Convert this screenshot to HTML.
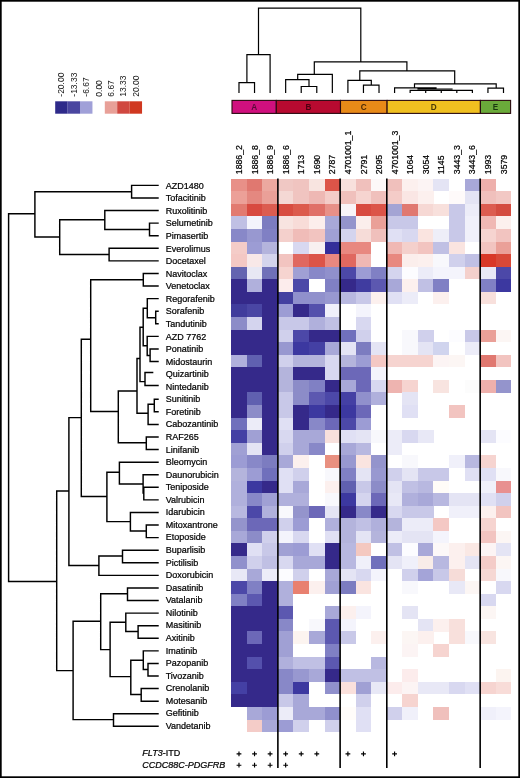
<!DOCTYPE html><html><head><meta charset="utf-8"><style>html,body{margin:0;padding:0;background:#fff;}svg{display:block;will-change:transform;}text{font-family:"Liberation Sans",sans-serif;}.hv text{stroke:#000;stroke-width:0.22px;}</style></head><body>
<svg width="520" height="778" viewBox="0 0 520 778">
<rect x="0" y="0" width="520" height="778" fill="#fff"/>
<g shape-rendering="crispEdges">
<rect x="231.20" y="178.60" width="15.61" height="12.63" fill="#e89088"/>
<rect x="246.76" y="178.60" width="15.61" height="12.63" fill="#e07870"/>
<rect x="262.32" y="178.60" width="15.61" height="12.63" fill="#eca8a0"/>
<rect x="277.88" y="178.60" width="15.61" height="12.63" fill="#f0c8c4"/>
<rect x="293.44" y="178.60" width="15.61" height="12.63" fill="#f0c4c0"/>
<rect x="309.00" y="178.60" width="15.61" height="12.63" fill="#f8e4e0"/>
<rect x="324.56" y="178.60" width="15.61" height="12.63" fill="#dc5448"/>
<rect x="340.12" y="178.60" width="15.61" height="12.63" fill="#f8e0dc"/>
<rect x="355.68" y="178.60" width="15.61" height="12.63" fill="#f0c0bc"/>
<rect x="371.24" y="178.60" width="15.61" height="12.63" fill="#fdf8f8"/>
<rect x="386.80" y="178.60" width="15.61" height="12.63" fill="#f0c0bc"/>
<rect x="402.36" y="178.60" width="15.61" height="12.63" fill="#fcf0ee"/>
<rect x="417.92" y="178.60" width="15.61" height="12.63" fill="#fcf4f4"/>
<rect x="433.48" y="178.60" width="15.61" height="12.63" fill="#e4e4f4"/>
<rect x="464.60" y="178.60" width="15.61" height="12.63" fill="#a8a8d8"/>
<rect x="480.16" y="178.60" width="15.61" height="12.63" fill="#eeb0ac"/>
<rect x="231.20" y="191.18" width="15.61" height="12.63" fill="#eca098"/>
<rect x="246.76" y="191.18" width="15.61" height="12.63" fill="#e48880"/>
<rect x="262.32" y="191.18" width="15.61" height="12.63" fill="#eaa098"/>
<rect x="277.88" y="191.18" width="15.61" height="12.63" fill="#f4d8d4"/>
<rect x="293.44" y="191.18" width="15.61" height="12.63" fill="#f0c4c0"/>
<rect x="309.00" y="191.18" width="15.61" height="12.63" fill="#eeb8b4"/>
<rect x="324.56" y="191.18" width="15.61" height="12.63" fill="#f4ccc8"/>
<rect x="340.12" y="191.18" width="15.61" height="12.63" fill="#f0c0bc"/>
<rect x="355.68" y="191.18" width="15.61" height="12.63" fill="#f6d4d0"/>
<rect x="371.24" y="191.18" width="15.61" height="12.63" fill="#f0c0bc"/>
<rect x="386.80" y="191.18" width="15.61" height="12.63" fill="#f4ccc8"/>
<rect x="402.36" y="191.18" width="15.61" height="12.63" fill="#fae6e4"/>
<rect x="417.92" y="191.18" width="15.61" height="12.63" fill="#fcf0ee"/>
<rect x="449.04" y="191.18" width="15.61" height="12.63" fill="#fefafa"/>
<rect x="464.60" y="191.18" width="15.61" height="12.63" fill="#e4e4f4"/>
<rect x="480.16" y="191.18" width="15.61" height="12.63" fill="#f0c0bc"/>
<rect x="495.72" y="191.18" width="15.61" height="12.63" fill="#f2c8c4"/>
<rect x="231.20" y="203.76" width="15.61" height="12.63" fill="#e27a70"/>
<rect x="246.76" y="203.76" width="15.61" height="12.63" fill="#d84a40"/>
<rect x="262.32" y="203.76" width="15.61" height="12.63" fill="#dc5c50"/>
<rect x="277.88" y="203.76" width="15.61" height="12.63" fill="#d84c40"/>
<rect x="293.44" y="203.76" width="15.61" height="12.63" fill="#dc5a4c"/>
<rect x="309.00" y="203.76" width="15.61" height="12.63" fill="#e07068"/>
<rect x="324.56" y="203.76" width="15.61" height="12.63" fill="#e89088"/>
<rect x="340.12" y="203.76" width="15.61" height="12.63" fill="#f8f4f8"/>
<rect x="355.68" y="203.76" width="15.61" height="12.63" fill="#d84a40"/>
<rect x="371.24" y="203.76" width="15.61" height="12.63" fill="#dc5448"/>
<rect x="386.80" y="203.76" width="15.61" height="12.63" fill="#a4a4d4"/>
<rect x="402.36" y="203.76" width="15.61" height="12.63" fill="#e07870"/>
<rect x="417.92" y="203.76" width="15.61" height="12.63" fill="#f6d8d4"/>
<rect x="433.48" y="203.76" width="15.61" height="12.63" fill="#f8e0dc"/>
<rect x="449.04" y="203.76" width="15.61" height="12.63" fill="#c8c8e8"/>
<rect x="464.60" y="203.76" width="15.61" height="12.63" fill="#ececf8"/>
<rect x="480.16" y="203.76" width="15.61" height="12.63" fill="#dc5c50"/>
<rect x="495.72" y="203.76" width="15.61" height="12.63" fill="#d44c40"/>
<rect x="231.20" y="216.34" width="15.61" height="12.63" fill="#c0c0e4"/>
<rect x="246.76" y="216.34" width="15.61" height="12.63" fill="#f4f4fc"/>
<rect x="262.32" y="216.34" width="15.61" height="12.63" fill="#7c7cc0"/>
<rect x="277.88" y="216.34" width="15.61" height="12.63" fill="#f8e4e0"/>
<rect x="293.44" y="216.34" width="15.61" height="12.63" fill="#f8dcd8"/>
<rect x="309.00" y="216.34" width="15.61" height="12.63" fill="#fceeec"/>
<rect x="324.56" y="216.34" width="15.61" height="12.63" fill="#a8a8d8"/>
<rect x="340.12" y="216.34" width="15.61" height="12.63" fill="#9494cc"/>
<rect x="355.68" y="216.34" width="15.61" height="12.63" fill="#fbeeec"/>
<rect x="371.24" y="216.34" width="15.61" height="12.63" fill="#eaa098"/>
<rect x="386.80" y="216.34" width="15.61" height="12.63" fill="#c8c8e8"/>
<rect x="402.36" y="216.34" width="15.61" height="12.63" fill="#c8c8e8"/>
<rect x="449.04" y="216.34" width="15.61" height="12.63" fill="#c8c8e8"/>
<rect x="464.60" y="216.34" width="15.61" height="12.63" fill="#f0f0fa"/>
<rect x="480.16" y="216.34" width="15.61" height="12.63" fill="#f0b8b4"/>
<rect x="495.72" y="216.34" width="15.61" height="12.63" fill="#fcf0ee"/>
<rect x="231.20" y="228.92" width="15.61" height="12.63" fill="#8888c8"/>
<rect x="246.76" y="228.92" width="15.61" height="12.63" fill="#9898d0"/>
<rect x="262.32" y="228.92" width="15.61" height="12.63" fill="#8080c4"/>
<rect x="277.88" y="228.92" width="15.61" height="12.63" fill="#f4d0cc"/>
<rect x="293.44" y="228.92" width="15.61" height="12.63" fill="#f0bcb8"/>
<rect x="309.00" y="228.92" width="15.61" height="12.63" fill="#f2c4c0"/>
<rect x="324.56" y="228.92" width="15.61" height="12.63" fill="#a0a0d4"/>
<rect x="340.12" y="228.92" width="15.61" height="12.63" fill="#d4d4ee"/>
<rect x="355.68" y="228.92" width="15.61" height="12.63" fill="#f6dcd8"/>
<rect x="371.24" y="228.92" width="15.61" height="12.63" fill="#f0c0bc"/>
<rect x="386.80" y="228.92" width="15.61" height="12.63" fill="#e0e0f4"/>
<rect x="402.36" y="228.92" width="15.61" height="12.63" fill="#d8d8f0"/>
<rect x="417.92" y="228.92" width="15.61" height="12.63" fill="#fae4e0"/>
<rect x="433.48" y="228.92" width="15.61" height="12.63" fill="#eeeef8"/>
<rect x="449.04" y="228.92" width="15.61" height="12.63" fill="#c8c8e8"/>
<rect x="464.60" y="228.92" width="15.61" height="12.63" fill="#f0f0fa"/>
<rect x="480.16" y="228.92" width="15.61" height="12.63" fill="#f6d4d0"/>
<rect x="495.72" y="228.92" width="15.61" height="12.63" fill="#f2c4c0"/>
<rect x="231.20" y="241.50" width="15.61" height="12.63" fill="#f4ccc8"/>
<rect x="246.76" y="241.50" width="15.61" height="12.63" fill="#9c9cd4"/>
<rect x="262.32" y="241.50" width="15.61" height="12.63" fill="#b4b4dc"/>
<rect x="293.44" y="241.50" width="15.61" height="12.63" fill="#d8d8f0"/>
<rect x="309.00" y="241.50" width="15.61" height="12.63" fill="#f8f0f0"/>
<rect x="324.56" y="241.50" width="15.61" height="12.63" fill="#342e9a"/>
<rect x="340.12" y="241.50" width="15.61" height="12.63" fill="#e88880"/>
<rect x="355.68" y="241.50" width="15.61" height="12.63" fill="#e88880"/>
<rect x="386.80" y="241.50" width="15.61" height="12.63" fill="#f0b8b4"/>
<rect x="402.36" y="241.50" width="15.61" height="12.63" fill="#f4d0cc"/>
<rect x="417.92" y="241.50" width="15.61" height="12.63" fill="#f2c4c0"/>
<rect x="433.48" y="241.50" width="15.61" height="12.63" fill="#c0c0e4"/>
<rect x="449.04" y="241.50" width="15.61" height="12.63" fill="#fae4e0"/>
<rect x="480.16" y="241.50" width="15.61" height="12.63" fill="#f2c4c0"/>
<rect x="495.72" y="241.50" width="15.61" height="12.63" fill="#eaa098"/>
<rect x="231.20" y="254.08" width="15.61" height="12.63" fill="#f4c8c4"/>
<rect x="246.76" y="254.08" width="15.61" height="12.63" fill="#f8e8e8"/>
<rect x="262.32" y="254.08" width="15.61" height="12.63" fill="#d4d4ec"/>
<rect x="277.88" y="254.08" width="15.61" height="12.63" fill="#f2c4c0"/>
<rect x="293.44" y="254.08" width="15.61" height="12.63" fill="#e06860"/>
<rect x="309.00" y="254.08" width="15.61" height="12.63" fill="#dc5448"/>
<rect x="324.56" y="254.08" width="15.61" height="12.63" fill="#e88880"/>
<rect x="340.12" y="254.08" width="15.61" height="12.63" fill="#e06860"/>
<rect x="355.68" y="254.08" width="15.61" height="12.63" fill="#f0b8b4"/>
<rect x="386.80" y="254.08" width="15.61" height="12.63" fill="#e88880"/>
<rect x="402.36" y="254.08" width="15.61" height="12.63" fill="#fbeeec"/>
<rect x="417.92" y="254.08" width="15.61" height="12.63" fill="#fcf0ee"/>
<rect x="433.48" y="254.08" width="15.61" height="12.63" fill="#f8f8fc"/>
<rect x="449.04" y="254.08" width="15.61" height="12.63" fill="#d0d0ec"/>
<rect x="464.60" y="254.08" width="15.61" height="12.63" fill="#c0c0e4"/>
<rect x="480.16" y="254.08" width="15.61" height="12.63" fill="#d83828"/>
<rect x="495.72" y="254.08" width="15.61" height="12.63" fill="#d84838"/>
<rect x="231.20" y="266.66" width="15.61" height="12.63" fill="#6464b0"/>
<rect x="246.76" y="266.66" width="15.61" height="12.63" fill="#e8e8f4"/>
<rect x="262.32" y="266.66" width="15.61" height="12.63" fill="#7070b8"/>
<rect x="277.88" y="266.66" width="15.61" height="12.63" fill="#f6d4d0"/>
<rect x="293.44" y="266.66" width="15.61" height="12.63" fill="#a0a0d4"/>
<rect x="309.00" y="266.66" width="15.61" height="12.63" fill="#8888c8"/>
<rect x="324.56" y="266.66" width="15.61" height="12.63" fill="#9090cc"/>
<rect x="340.12" y="266.66" width="15.61" height="12.63" fill="#4c48a8"/>
<rect x="355.68" y="266.66" width="15.61" height="12.63" fill="#9c9cd4"/>
<rect x="371.24" y="266.66" width="15.61" height="12.63" fill="#8080c4"/>
<rect x="386.80" y="266.66" width="15.61" height="12.63" fill="#d4d4ee"/>
<rect x="402.36" y="266.66" width="15.61" height="12.63" fill="#fcfcff"/>
<rect x="417.92" y="266.66" width="15.61" height="12.63" fill="#ececf8"/>
<rect x="433.48" y="266.66" width="15.61" height="12.63" fill="#f4f4fc"/>
<rect x="449.04" y="266.66" width="15.61" height="12.63" fill="#f4f4fc"/>
<rect x="464.60" y="266.66" width="15.61" height="12.63" fill="#f4d0cc"/>
<rect x="480.16" y="266.66" width="15.61" height="12.63" fill="#e8e8f6"/>
<rect x="495.72" y="266.66" width="15.61" height="12.63" fill="#4c48a8"/>
<rect x="231.20" y="279.24" width="15.61" height="12.63" fill="#35298a"/>
<rect x="246.76" y="279.24" width="15.61" height="12.63" fill="#b0b0dc"/>
<rect x="262.32" y="279.24" width="15.61" height="12.63" fill="#35298a"/>
<rect x="277.88" y="279.24" width="15.61" height="12.63" fill="#fcecec"/>
<rect x="293.44" y="279.24" width="15.61" height="12.63" fill="#4c48a8"/>
<rect x="324.56" y="279.24" width="15.61" height="12.63" fill="#8080c4"/>
<rect x="340.12" y="279.24" width="15.61" height="12.63" fill="#35298a"/>
<rect x="355.68" y="279.24" width="15.61" height="12.63" fill="#403ca0"/>
<rect x="371.24" y="279.24" width="15.61" height="12.63" fill="#5c58b0"/>
<rect x="386.80" y="279.24" width="15.61" height="12.63" fill="#a8a8d8"/>
<rect x="402.36" y="279.24" width="15.61" height="12.63" fill="#fcf0ee"/>
<rect x="417.92" y="279.24" width="15.61" height="12.63" fill="#c0c0e4"/>
<rect x="433.48" y="279.24" width="15.61" height="12.63" fill="#8080c4"/>
<rect x="480.16" y="279.24" width="15.61" height="12.63" fill="#8080c4"/>
<rect x="495.72" y="279.24" width="15.61" height="12.63" fill="#3c38a0"/>
<rect x="231.20" y="291.82" width="15.61" height="12.63" fill="#35298a"/>
<rect x="246.76" y="291.82" width="15.61" height="12.63" fill="#35298a"/>
<rect x="262.32" y="291.82" width="15.61" height="12.63" fill="#35298a"/>
<rect x="277.88" y="291.82" width="15.61" height="12.63" fill="#4440a0"/>
<rect x="293.44" y="291.82" width="15.61" height="12.63" fill="#9090cc"/>
<rect x="309.00" y="291.82" width="15.61" height="12.63" fill="#9090cc"/>
<rect x="324.56" y="291.82" width="15.61" height="12.63" fill="#9898d0"/>
<rect x="340.12" y="291.82" width="15.61" height="12.63" fill="#b8b8e0"/>
<rect x="355.68" y="291.82" width="15.61" height="12.63" fill="#c8c8e8"/>
<rect x="371.24" y="291.82" width="15.61" height="12.63" fill="#fcf0ee"/>
<rect x="386.80" y="291.82" width="15.61" height="12.63" fill="#e0e0f4"/>
<rect x="402.36" y="291.82" width="15.61" height="12.63" fill="#ececf8"/>
<rect x="433.48" y="291.82" width="15.61" height="12.63" fill="#fcf0ee"/>
<rect x="480.16" y="291.82" width="15.61" height="12.63" fill="#f8e0dc"/>
<rect x="231.20" y="304.40" width="15.61" height="12.63" fill="#403c9c"/>
<rect x="246.76" y="304.40" width="15.61" height="12.63" fill="#4a46a4"/>
<rect x="262.32" y="304.40" width="15.61" height="12.63" fill="#35298a"/>
<rect x="277.88" y="304.40" width="15.61" height="12.63" fill="#9c9cd4"/>
<rect x="293.44" y="304.40" width="15.61" height="12.63" fill="#35298a"/>
<rect x="309.00" y="304.40" width="15.61" height="12.63" fill="#5450ac"/>
<rect x="324.56" y="304.40" width="15.61" height="12.63" fill="#f0f0fa"/>
<rect x="355.68" y="304.40" width="15.61" height="12.63" fill="#f4f4fc"/>
<rect x="231.20" y="316.98" width="15.61" height="12.63" fill="#8c8cc8"/>
<rect x="246.76" y="316.98" width="15.61" height="12.63" fill="#d4d4ee"/>
<rect x="262.32" y="316.98" width="15.61" height="12.63" fill="#35298a"/>
<rect x="277.88" y="316.98" width="15.61" height="12.63" fill="#c8c8e8"/>
<rect x="293.44" y="316.98" width="15.61" height="12.63" fill="#c8c8e8"/>
<rect x="309.00" y="316.98" width="15.61" height="12.63" fill="#b0b0dc"/>
<rect x="324.56" y="316.98" width="15.61" height="12.63" fill="#c0c0e4"/>
<rect x="355.68" y="316.98" width="15.61" height="12.63" fill="#d8d8f0"/>
<rect x="231.20" y="329.56" width="15.61" height="12.63" fill="#35298a"/>
<rect x="246.76" y="329.56" width="15.61" height="12.63" fill="#35298a"/>
<rect x="262.32" y="329.56" width="15.61" height="12.63" fill="#35298a"/>
<rect x="277.88" y="329.56" width="15.61" height="12.63" fill="#d0d0ec"/>
<rect x="293.44" y="329.56" width="15.61" height="12.63" fill="#4c48a8"/>
<rect x="309.00" y="329.56" width="15.61" height="12.63" fill="#35298a"/>
<rect x="324.56" y="329.56" width="15.61" height="12.63" fill="#35298a"/>
<rect x="340.12" y="329.56" width="15.61" height="12.63" fill="#7070bc"/>
<rect x="355.68" y="329.56" width="15.61" height="12.63" fill="#d0d0ec"/>
<rect x="402.36" y="329.56" width="15.61" height="12.63" fill="#f8f8fc"/>
<rect x="417.92" y="329.56" width="15.61" height="12.63" fill="#d0d0ec"/>
<rect x="449.04" y="329.56" width="15.61" height="12.63" fill="#fcfcff"/>
<rect x="464.60" y="329.56" width="15.61" height="12.63" fill="#c8c8e8"/>
<rect x="480.16" y="329.56" width="15.61" height="12.63" fill="#eaa098"/>
<rect x="495.72" y="329.56" width="15.61" height="12.63" fill="#fcf6f4"/>
<rect x="231.20" y="342.14" width="15.61" height="12.63" fill="#35298a"/>
<rect x="246.76" y="342.14" width="15.61" height="12.63" fill="#35298a"/>
<rect x="262.32" y="342.14" width="15.61" height="12.63" fill="#35298a"/>
<rect x="277.88" y="342.14" width="15.61" height="12.63" fill="#9898d0"/>
<rect x="293.44" y="342.14" width="15.61" height="12.63" fill="#3c38a0"/>
<rect x="309.00" y="342.14" width="15.61" height="12.63" fill="#4440a4"/>
<rect x="324.56" y="342.14" width="15.61" height="12.63" fill="#a8a8d8"/>
<rect x="340.12" y="342.14" width="15.61" height="12.63" fill="#e4e4f4"/>
<rect x="355.68" y="342.14" width="15.61" height="12.63" fill="#7c7cc0"/>
<rect x="371.24" y="342.14" width="15.61" height="12.63" fill="#e4e4f4"/>
<rect x="402.36" y="342.14" width="15.61" height="12.63" fill="#f8f8fc"/>
<rect x="417.92" y="342.14" width="15.61" height="12.63" fill="#e4e4f4"/>
<rect x="433.48" y="342.14" width="15.61" height="12.63" fill="#d0d4ee"/>
<rect x="464.60" y="342.14" width="15.61" height="12.63" fill="#ececf8"/>
<rect x="231.20" y="354.72" width="15.61" height="12.63" fill="#b0b0dc"/>
<rect x="246.76" y="354.72" width="15.61" height="12.63" fill="#6060b0"/>
<rect x="262.32" y="354.72" width="15.61" height="12.63" fill="#35298a"/>
<rect x="277.88" y="354.72" width="15.61" height="12.63" fill="#d0d0ec"/>
<rect x="293.44" y="354.72" width="15.61" height="12.63" fill="#b4b4dc"/>
<rect x="309.00" y="354.72" width="15.61" height="12.63" fill="#b4b4dc"/>
<rect x="324.56" y="354.72" width="15.61" height="12.63" fill="#d8d8f0"/>
<rect x="340.12" y="354.72" width="15.61" height="12.63" fill="#b4b4dc"/>
<rect x="355.68" y="354.72" width="15.61" height="12.63" fill="#9c9cd4"/>
<rect x="371.24" y="354.72" width="15.61" height="12.63" fill="#f4c8c4"/>
<rect x="386.80" y="354.72" width="15.61" height="12.63" fill="#f6d4d0"/>
<rect x="402.36" y="354.72" width="15.61" height="12.63" fill="#f6d4d0"/>
<rect x="417.92" y="354.72" width="15.61" height="12.63" fill="#f6d4d0"/>
<rect x="433.48" y="354.72" width="15.61" height="12.63" fill="#fcf4f4"/>
<rect x="449.04" y="354.72" width="15.61" height="12.63" fill="#fcf6f4"/>
<rect x="480.16" y="354.72" width="15.61" height="12.63" fill="#e07870"/>
<rect x="495.72" y="354.72" width="15.61" height="12.63" fill="#f2c4c0"/>
<rect x="231.20" y="367.30" width="15.61" height="12.63" fill="#35298a"/>
<rect x="246.76" y="367.30" width="15.61" height="12.63" fill="#35298a"/>
<rect x="262.32" y="367.30" width="15.61" height="12.63" fill="#35298a"/>
<rect x="277.88" y="367.30" width="15.61" height="12.63" fill="#b4b4dc"/>
<rect x="293.44" y="367.30" width="15.61" height="12.63" fill="#35298a"/>
<rect x="309.00" y="367.30" width="15.61" height="12.63" fill="#35298a"/>
<rect x="324.56" y="367.30" width="15.61" height="12.63" fill="#d8d8f0"/>
<rect x="340.12" y="367.30" width="15.61" height="12.63" fill="#6c68b8"/>
<rect x="355.68" y="367.30" width="15.61" height="12.63" fill="#6c68b8"/>
<rect x="371.24" y="367.30" width="15.61" height="12.63" fill="#f4f4fc"/>
<rect x="231.20" y="379.88" width="15.61" height="12.63" fill="#35298a"/>
<rect x="246.76" y="379.88" width="15.61" height="12.63" fill="#35298a"/>
<rect x="262.32" y="379.88" width="15.61" height="12.63" fill="#35298a"/>
<rect x="277.88" y="379.88" width="15.61" height="12.63" fill="#b4b4dc"/>
<rect x="293.44" y="379.88" width="15.61" height="12.63" fill="#8c8cc8"/>
<rect x="309.00" y="379.88" width="15.61" height="12.63" fill="#8080c4"/>
<rect x="324.56" y="379.88" width="15.61" height="12.63" fill="#35298a"/>
<rect x="340.12" y="379.88" width="15.61" height="12.63" fill="#a8a8d8"/>
<rect x="355.68" y="379.88" width="15.61" height="12.63" fill="#6c68b8"/>
<rect x="371.24" y="379.88" width="15.61" height="12.63" fill="#d8d8f0"/>
<rect x="386.80" y="379.88" width="15.61" height="12.63" fill="#eeb4b0"/>
<rect x="402.36" y="379.88" width="15.61" height="12.63" fill="#f6d4d0"/>
<rect x="433.48" y="379.88" width="15.61" height="12.63" fill="#f8e4e0"/>
<rect x="464.60" y="379.88" width="15.61" height="12.63" fill="#fcfcfc"/>
<rect x="480.16" y="379.88" width="15.61" height="12.63" fill="#eeb0ac"/>
<rect x="495.72" y="379.88" width="15.61" height="12.63" fill="#9494cc"/>
<rect x="231.20" y="392.46" width="15.61" height="12.63" fill="#35298a"/>
<rect x="246.76" y="392.46" width="15.61" height="12.63" fill="#6060b0"/>
<rect x="262.32" y="392.46" width="15.61" height="12.63" fill="#35298a"/>
<rect x="277.88" y="392.46" width="15.61" height="12.63" fill="#c8c8e8"/>
<rect x="293.44" y="392.46" width="15.61" height="12.63" fill="#8c8cc8"/>
<rect x="309.00" y="392.46" width="15.61" height="12.63" fill="#5c58b0"/>
<rect x="324.56" y="392.46" width="15.61" height="12.63" fill="#4c48a8"/>
<rect x="340.12" y="392.46" width="15.61" height="12.63" fill="#4440a4"/>
<rect x="355.68" y="392.46" width="15.61" height="12.63" fill="#9090cc"/>
<rect x="371.24" y="392.46" width="15.61" height="12.63" fill="#b0b0dc"/>
<rect x="402.36" y="392.46" width="15.61" height="12.63" fill="#e4e4f4"/>
<rect x="231.20" y="405.04" width="15.61" height="12.63" fill="#35298a"/>
<rect x="246.76" y="405.04" width="15.61" height="12.63" fill="#8c8cc8"/>
<rect x="262.32" y="405.04" width="15.61" height="12.63" fill="#35298a"/>
<rect x="277.88" y="405.04" width="15.61" height="12.63" fill="#c8c8e8"/>
<rect x="293.44" y="405.04" width="15.61" height="12.63" fill="#35298a"/>
<rect x="309.00" y="405.04" width="15.61" height="12.63" fill="#3c38a0"/>
<rect x="324.56" y="405.04" width="15.61" height="12.63" fill="#35298a"/>
<rect x="340.12" y="405.04" width="15.61" height="12.63" fill="#3c38a0"/>
<rect x="355.68" y="405.04" width="15.61" height="12.63" fill="#6c68b8"/>
<rect x="402.36" y="405.04" width="15.61" height="12.63" fill="#e0e0f4"/>
<rect x="449.04" y="405.04" width="15.61" height="12.63" fill="#f2c4c0"/>
<rect x="231.20" y="417.62" width="15.61" height="12.63" fill="#7070bc"/>
<rect x="246.76" y="417.62" width="15.61" height="12.63" fill="#ececf8"/>
<rect x="262.32" y="417.62" width="15.61" height="12.63" fill="#35298a"/>
<rect x="277.88" y="417.62" width="15.61" height="12.63" fill="#e0e0f4"/>
<rect x="293.44" y="417.62" width="15.61" height="12.63" fill="#35298a"/>
<rect x="309.00" y="417.62" width="15.61" height="12.63" fill="#8888c8"/>
<rect x="324.56" y="417.62" width="15.61" height="12.63" fill="#6c68b8"/>
<rect x="340.12" y="417.62" width="15.61" height="12.63" fill="#4c48a8"/>
<rect x="355.68" y="417.62" width="15.61" height="12.63" fill="#9c9cd4"/>
<rect x="231.20" y="430.20" width="15.61" height="12.63" fill="#4440a4"/>
<rect x="246.76" y="430.20" width="15.61" height="12.63" fill="#a0a0d4"/>
<rect x="262.32" y="430.20" width="15.61" height="12.63" fill="#35298a"/>
<rect x="277.88" y="430.20" width="15.61" height="12.63" fill="#d8d8f0"/>
<rect x="293.44" y="430.20" width="15.61" height="12.63" fill="#a8a8d8"/>
<rect x="309.00" y="430.20" width="15.61" height="12.63" fill="#a8a8d8"/>
<rect x="324.56" y="430.20" width="15.61" height="12.63" fill="#f8e0dc"/>
<rect x="340.12" y="430.20" width="15.61" height="12.63" fill="#e0e0f4"/>
<rect x="355.68" y="430.20" width="15.61" height="12.63" fill="#e4e4f4"/>
<rect x="371.24" y="430.20" width="15.61" height="12.63" fill="#f8f8fc"/>
<rect x="386.80" y="430.20" width="15.61" height="12.63" fill="#ececf8"/>
<rect x="402.36" y="430.20" width="15.61" height="12.63" fill="#d8d8f0"/>
<rect x="417.92" y="430.20" width="15.61" height="12.63" fill="#e8e8f6"/>
<rect x="480.16" y="430.20" width="15.61" height="12.63" fill="#e4e4f4"/>
<rect x="495.72" y="430.20" width="15.61" height="12.63" fill="#fcfcff"/>
<rect x="231.20" y="442.78" width="15.61" height="12.63" fill="#a0a0d4"/>
<rect x="246.76" y="442.78" width="15.61" height="12.63" fill="#e4e4f4"/>
<rect x="262.32" y="442.78" width="15.61" height="12.63" fill="#35298a"/>
<rect x="277.88" y="442.78" width="15.61" height="12.63" fill="#d0d0ec"/>
<rect x="293.44" y="442.78" width="15.61" height="12.63" fill="#a8a8d8"/>
<rect x="309.00" y="442.78" width="15.61" height="12.63" fill="#8888c8"/>
<rect x="340.12" y="442.78" width="15.61" height="12.63" fill="#a8a8d8"/>
<rect x="355.68" y="442.78" width="15.61" height="12.63" fill="#b8b8e0"/>
<rect x="386.80" y="442.78" width="15.61" height="12.63" fill="#ececf8"/>
<rect x="231.20" y="455.36" width="15.61" height="12.63" fill="#9c9cd4"/>
<rect x="246.76" y="455.36" width="15.61" height="12.63" fill="#8888c8"/>
<rect x="262.32" y="455.36" width="15.61" height="12.63" fill="#7c7cc0"/>
<rect x="277.88" y="455.36" width="15.61" height="12.63" fill="#a8a8d8"/>
<rect x="293.44" y="455.36" width="15.61" height="12.63" fill="#fcf0ee"/>
<rect x="324.56" y="455.36" width="15.61" height="12.63" fill="#e89080"/>
<rect x="340.12" y="455.36" width="15.61" height="12.63" fill="#9898d0"/>
<rect x="355.68" y="455.36" width="15.61" height="12.63" fill="#fae4e0"/>
<rect x="371.24" y="455.36" width="15.61" height="12.63" fill="#9494cc"/>
<rect x="402.36" y="455.36" width="15.61" height="12.63" fill="#f8f8fc"/>
<rect x="449.04" y="455.36" width="15.61" height="12.63" fill="#f0f0fa"/>
<rect x="464.60" y="455.36" width="15.61" height="12.63" fill="#b8b8e0"/>
<rect x="480.16" y="455.36" width="15.61" height="12.63" fill="#f6d4d0"/>
<rect x="231.20" y="467.94" width="15.61" height="12.63" fill="#b4b4dc"/>
<rect x="246.76" y="467.94" width="15.61" height="12.63" fill="#9c9cd4"/>
<rect x="262.32" y="467.94" width="15.61" height="12.63" fill="#7070bc"/>
<rect x="277.88" y="467.94" width="15.61" height="12.63" fill="#e0e0f4"/>
<rect x="293.44" y="467.94" width="15.61" height="12.63" fill="#d0d0ec"/>
<rect x="324.56" y="467.94" width="15.61" height="12.63" fill="#f8f8fc"/>
<rect x="340.12" y="467.94" width="15.61" height="12.63" fill="#8080c4"/>
<rect x="355.68" y="467.94" width="15.61" height="12.63" fill="#e4e4f4"/>
<rect x="371.24" y="467.94" width="15.61" height="12.63" fill="#9898d0"/>
<rect x="386.80" y="467.94" width="15.61" height="12.63" fill="#d0d0ec"/>
<rect x="402.36" y="467.94" width="15.61" height="12.63" fill="#e4e4f4"/>
<rect x="417.92" y="467.94" width="15.61" height="12.63" fill="#c8c8e8"/>
<rect x="433.48" y="467.94" width="15.61" height="12.63" fill="#c8c8e8"/>
<rect x="464.60" y="467.94" width="15.61" height="12.63" fill="#e0e0f4"/>
<rect x="480.16" y="467.94" width="15.61" height="12.63" fill="#e0e0f4"/>
<rect x="495.72" y="467.94" width="15.61" height="12.63" fill="#f8f8fc"/>
<rect x="231.20" y="480.52" width="15.61" height="12.63" fill="#b0b0dc"/>
<rect x="246.76" y="480.52" width="15.61" height="12.63" fill="#3c38a0"/>
<rect x="262.32" y="480.52" width="15.61" height="12.63" fill="#35298a"/>
<rect x="277.88" y="480.52" width="15.61" height="12.63" fill="#e0e0f4"/>
<rect x="293.44" y="480.52" width="15.61" height="12.63" fill="#a8a8d8"/>
<rect x="324.56" y="480.52" width="15.61" height="12.63" fill="#fcf0ee"/>
<rect x="340.12" y="480.52" width="15.61" height="12.63" fill="#6060b0"/>
<rect x="355.68" y="480.52" width="15.61" height="12.63" fill="#c8c8e8"/>
<rect x="371.24" y="480.52" width="15.61" height="12.63" fill="#8c8cc8"/>
<rect x="386.80" y="480.52" width="15.61" height="12.63" fill="#e4e4f4"/>
<rect x="402.36" y="480.52" width="15.61" height="12.63" fill="#c0c0e4"/>
<rect x="417.92" y="480.52" width="15.61" height="12.63" fill="#b8b8e0"/>
<rect x="433.48" y="480.52" width="15.61" height="12.63" fill="#fffcf8"/>
<rect x="480.16" y="480.52" width="15.61" height="12.63" fill="#f0f0fa"/>
<rect x="495.72" y="480.52" width="15.61" height="12.63" fill="#e89090"/>
<rect x="231.20" y="493.10" width="15.61" height="12.63" fill="#b0b0dc"/>
<rect x="246.76" y="493.10" width="15.61" height="12.63" fill="#8888c8"/>
<rect x="262.32" y="493.10" width="15.61" height="12.63" fill="#a0a0d4"/>
<rect x="277.88" y="493.10" width="15.61" height="12.63" fill="#b0b0dc"/>
<rect x="293.44" y="493.10" width="15.61" height="12.63" fill="#b0b0dc"/>
<rect x="324.56" y="493.10" width="15.61" height="12.63" fill="#f8f8fc"/>
<rect x="340.12" y="493.10" width="15.61" height="12.63" fill="#3c38a0"/>
<rect x="355.68" y="493.10" width="15.61" height="12.63" fill="#d4d4ee"/>
<rect x="371.24" y="493.10" width="15.61" height="12.63" fill="#6c68b8"/>
<rect x="386.80" y="493.10" width="15.61" height="12.63" fill="#e8e8f6"/>
<rect x="402.36" y="493.10" width="15.61" height="12.63" fill="#b0b0dc"/>
<rect x="417.92" y="493.10" width="15.61" height="12.63" fill="#a8a8d8"/>
<rect x="433.48" y="493.10" width="15.61" height="12.63" fill="#b8b8e0"/>
<rect x="449.04" y="493.10" width="15.61" height="12.63" fill="#e4e4f4"/>
<rect x="464.60" y="493.10" width="15.61" height="12.63" fill="#e4e4f4"/>
<rect x="480.16" y="493.10" width="15.61" height="12.63" fill="#e0e0f4"/>
<rect x="495.72" y="493.10" width="15.61" height="12.63" fill="#d0d0ec"/>
<rect x="231.20" y="505.68" width="15.61" height="12.63" fill="#b8b8e0"/>
<rect x="246.76" y="505.68" width="15.61" height="12.63" fill="#4c48a8"/>
<rect x="262.32" y="505.68" width="15.61" height="12.63" fill="#b0b0dc"/>
<rect x="277.88" y="505.68" width="15.61" height="12.63" fill="#f8f8fc"/>
<rect x="293.44" y="505.68" width="15.61" height="12.63" fill="#9494cc"/>
<rect x="309.00" y="505.68" width="15.61" height="12.63" fill="#6c68b8"/>
<rect x="324.56" y="505.68" width="15.61" height="12.63" fill="#e4e4f4"/>
<rect x="340.12" y="505.68" width="15.61" height="12.63" fill="#35298a"/>
<rect x="355.68" y="505.68" width="15.61" height="12.63" fill="#8888c8"/>
<rect x="371.24" y="505.68" width="15.61" height="12.63" fill="#35298a"/>
<rect x="386.80" y="505.68" width="15.61" height="12.63" fill="#d8d8f0"/>
<rect x="402.36" y="505.68" width="15.61" height="12.63" fill="#c8c8e8"/>
<rect x="417.92" y="505.68" width="15.61" height="12.63" fill="#c8c8e8"/>
<rect x="449.04" y="505.68" width="15.61" height="12.63" fill="#f0f0fa"/>
<rect x="464.60" y="505.68" width="15.61" height="12.63" fill="#f0f0fa"/>
<rect x="480.16" y="505.68" width="15.61" height="12.63" fill="#fcf0ee"/>
<rect x="495.72" y="505.68" width="15.61" height="12.63" fill="#f2c4c0"/>
<rect x="231.20" y="518.26" width="15.61" height="12.63" fill="#9494cc"/>
<rect x="246.76" y="518.26" width="15.61" height="12.63" fill="#6c68b8"/>
<rect x="262.32" y="518.26" width="15.61" height="12.63" fill="#6c68b8"/>
<rect x="277.88" y="518.26" width="15.61" height="12.63" fill="#d0d0ec"/>
<rect x="293.44" y="518.26" width="15.61" height="12.63" fill="#9c9cd4"/>
<rect x="324.56" y="518.26" width="15.61" height="12.63" fill="#b0b0dc"/>
<rect x="340.12" y="518.26" width="15.61" height="12.63" fill="#b4b4dc"/>
<rect x="355.68" y="518.26" width="15.61" height="12.63" fill="#c0c0e4"/>
<rect x="371.24" y="518.26" width="15.61" height="12.63" fill="#b0b0dc"/>
<rect x="386.80" y="518.26" width="15.61" height="12.63" fill="#b4b4dc"/>
<rect x="402.36" y="518.26" width="15.61" height="12.63" fill="#ececf8"/>
<rect x="417.92" y="518.26" width="15.61" height="12.63" fill="#ececf8"/>
<rect x="433.48" y="518.26" width="15.61" height="12.63" fill="#f4c8c4"/>
<rect x="480.16" y="518.26" width="15.61" height="12.63" fill="#f6d4d0"/>
<rect x="231.20" y="530.84" width="15.61" height="12.63" fill="#a8a8d8"/>
<rect x="246.76" y="530.84" width="15.61" height="12.63" fill="#8c8cc8"/>
<rect x="262.32" y="530.84" width="15.61" height="12.63" fill="#d0d0ec"/>
<rect x="277.88" y="530.84" width="15.61" height="12.63" fill="#f4f4fc"/>
<rect x="293.44" y="530.84" width="15.61" height="12.63" fill="#d8d8f0"/>
<rect x="324.56" y="530.84" width="15.61" height="12.63" fill="#e0e0f4"/>
<rect x="340.12" y="530.84" width="15.61" height="12.63" fill="#b4b4dc"/>
<rect x="355.68" y="530.84" width="15.61" height="12.63" fill="#e4e4f4"/>
<rect x="371.24" y="530.84" width="15.61" height="12.63" fill="#b4b4dc"/>
<rect x="386.80" y="530.84" width="15.61" height="12.63" fill="#ececf8"/>
<rect x="402.36" y="530.84" width="15.61" height="12.63" fill="#e4e4f4"/>
<rect x="417.92" y="530.84" width="15.61" height="12.63" fill="#e4e4f4"/>
<rect x="433.48" y="530.84" width="15.61" height="12.63" fill="#f4f4fc"/>
<rect x="480.16" y="530.84" width="15.61" height="12.63" fill="#f2c4c0"/>
<rect x="495.72" y="530.84" width="15.61" height="12.63" fill="#fcf6f4"/>
<rect x="231.20" y="543.42" width="15.61" height="12.63" fill="#35298a"/>
<rect x="246.76" y="543.42" width="15.61" height="12.63" fill="#e0e0f4"/>
<rect x="262.32" y="543.42" width="15.61" height="12.63" fill="#c8c8e8"/>
<rect x="277.88" y="543.42" width="15.61" height="12.63" fill="#a0a0d4"/>
<rect x="293.44" y="543.42" width="15.61" height="12.63" fill="#9c9cd4"/>
<rect x="309.00" y="543.42" width="15.61" height="12.63" fill="#e0e0f4"/>
<rect x="324.56" y="543.42" width="15.61" height="12.63" fill="#35298a"/>
<rect x="340.12" y="543.42" width="15.61" height="12.63" fill="#b8b8e0"/>
<rect x="355.68" y="543.42" width="15.61" height="12.63" fill="#f4c8c0"/>
<rect x="386.80" y="543.42" width="15.61" height="12.63" fill="#c0c0e4"/>
<rect x="402.36" y="543.42" width="15.61" height="12.63" fill="#fcfcff"/>
<rect x="417.92" y="543.42" width="15.61" height="12.63" fill="#a8a8d8"/>
<rect x="433.48" y="543.42" width="15.61" height="12.63" fill="#fcf8f8"/>
<rect x="449.04" y="543.42" width="15.61" height="12.63" fill="#fcf0ee"/>
<rect x="464.60" y="543.42" width="15.61" height="12.63" fill="#fae8e4"/>
<rect x="480.16" y="543.42" width="15.61" height="12.63" fill="#fcf4f4"/>
<rect x="495.72" y="543.42" width="15.61" height="12.63" fill="#e4e4f4"/>
<rect x="231.20" y="556.00" width="15.61" height="12.63" fill="#9090cc"/>
<rect x="246.76" y="556.00" width="15.61" height="12.63" fill="#d0d0ec"/>
<rect x="262.32" y="556.00" width="15.61" height="12.63" fill="#c0c0e4"/>
<rect x="277.88" y="556.00" width="15.61" height="12.63" fill="#d8d8f0"/>
<rect x="293.44" y="556.00" width="15.61" height="12.63" fill="#a8a8d8"/>
<rect x="309.00" y="556.00" width="15.61" height="12.63" fill="#a8a8d8"/>
<rect x="324.56" y="556.00" width="15.61" height="12.63" fill="#35298a"/>
<rect x="340.12" y="556.00" width="15.61" height="12.63" fill="#b8b8e0"/>
<rect x="355.68" y="556.00" width="15.61" height="12.63" fill="#f0f0fa"/>
<rect x="371.24" y="556.00" width="15.61" height="12.63" fill="#7070bc"/>
<rect x="386.80" y="556.00" width="15.61" height="12.63" fill="#e4e4f4"/>
<rect x="402.36" y="556.00" width="15.61" height="12.63" fill="#f0f0fa"/>
<rect x="417.92" y="556.00" width="15.61" height="12.63" fill="#f8ece8"/>
<rect x="433.48" y="556.00" width="15.61" height="12.63" fill="#b8b8e0"/>
<rect x="449.04" y="556.00" width="15.61" height="12.63" fill="#fcf0ee"/>
<rect x="464.60" y="556.00" width="15.61" height="12.63" fill="#e4e4f4"/>
<rect x="480.16" y="556.00" width="15.61" height="12.63" fill="#f4ccc8"/>
<rect x="495.72" y="556.00" width="15.61" height="12.63" fill="#fcf6f4"/>
<rect x="231.20" y="568.58" width="15.61" height="12.63" fill="#e8e8f6"/>
<rect x="246.76" y="568.58" width="15.61" height="12.63" fill="#a8a8d8"/>
<rect x="262.32" y="568.58" width="15.61" height="12.63" fill="#ececf8"/>
<rect x="277.88" y="568.58" width="15.61" height="12.63" fill="#fcfcff"/>
<rect x="293.44" y="568.58" width="15.61" height="12.63" fill="#d0d0ec"/>
<rect x="324.56" y="568.58" width="15.61" height="12.63" fill="#a8a8d8"/>
<rect x="340.12" y="568.58" width="15.61" height="12.63" fill="#e4e4f4"/>
<rect x="355.68" y="568.58" width="15.61" height="12.63" fill="#d8d8f0"/>
<rect x="371.24" y="568.58" width="15.61" height="12.63" fill="#f4f4fc"/>
<rect x="402.36" y="568.58" width="15.61" height="12.63" fill="#d0d0ec"/>
<rect x="417.92" y="568.58" width="15.61" height="12.63" fill="#a4a4d8"/>
<rect x="433.48" y="568.58" width="15.61" height="12.63" fill="#c8c8e8"/>
<rect x="449.04" y="568.58" width="15.61" height="12.63" fill="#f6dcd8"/>
<rect x="480.16" y="568.58" width="15.61" height="12.63" fill="#f6d8d4"/>
<rect x="495.72" y="568.58" width="15.61" height="12.63" fill="#f8f8fc"/>
<rect x="231.20" y="581.16" width="15.61" height="12.63" fill="#4c48a8"/>
<rect x="246.76" y="581.16" width="15.61" height="12.63" fill="#8080c4"/>
<rect x="262.32" y="581.16" width="15.61" height="12.63" fill="#35298a"/>
<rect x="277.88" y="581.16" width="15.61" height="12.63" fill="#b0b0dc"/>
<rect x="293.44" y="581.16" width="15.61" height="12.63" fill="#e88070"/>
<rect x="309.00" y="581.16" width="15.61" height="12.63" fill="#fcf0ee"/>
<rect x="324.56" y="581.16" width="15.61" height="12.63" fill="#a0a0d4"/>
<rect x="340.12" y="581.16" width="15.61" height="12.63" fill="#7c7cc0"/>
<rect x="355.68" y="581.16" width="15.61" height="12.63" fill="#fae4e0"/>
<rect x="402.36" y="581.16" width="15.61" height="12.63" fill="#f8f8fc"/>
<rect x="449.04" y="581.16" width="15.61" height="12.63" fill="#e8e8f6"/>
<rect x="464.60" y="581.16" width="15.61" height="12.63" fill="#fcf6f4"/>
<rect x="495.72" y="581.16" width="15.61" height="12.63" fill="#d8d8f0"/>
<rect x="231.20" y="593.74" width="15.61" height="12.63" fill="#8080c4"/>
<rect x="246.76" y="593.74" width="15.61" height="12.63" fill="#5c58b0"/>
<rect x="262.32" y="593.74" width="15.61" height="12.63" fill="#35298a"/>
<rect x="277.88" y="593.74" width="15.61" height="12.63" fill="#b0b0dc"/>
<rect x="480.16" y="593.74" width="15.61" height="12.63" fill="#d8d8f0"/>
<rect x="231.20" y="606.32" width="15.61" height="12.63" fill="#35298a"/>
<rect x="246.76" y="606.32" width="15.61" height="12.63" fill="#35298a"/>
<rect x="262.32" y="606.32" width="15.61" height="12.63" fill="#35298a"/>
<rect x="277.88" y="606.32" width="15.61" height="12.63" fill="#5c58b0"/>
<rect x="324.56" y="606.32" width="15.61" height="12.63" fill="#a8a8d8"/>
<rect x="340.12" y="606.32" width="15.61" height="12.63" fill="#fcf0ee"/>
<rect x="355.68" y="606.32" width="15.61" height="12.63" fill="#f4f4fc"/>
<rect x="402.36" y="606.32" width="15.61" height="12.63" fill="#e4e4f4"/>
<rect x="480.16" y="606.32" width="15.61" height="12.63" fill="#fcf6f4"/>
<rect x="231.20" y="618.90" width="15.61" height="12.63" fill="#35298a"/>
<rect x="246.76" y="618.90" width="15.61" height="12.63" fill="#35298a"/>
<rect x="262.32" y="618.90" width="15.61" height="12.63" fill="#35298a"/>
<rect x="277.88" y="618.90" width="15.61" height="12.63" fill="#8888c8"/>
<rect x="309.00" y="618.90" width="15.61" height="12.63" fill="#f8f8fc"/>
<rect x="324.56" y="618.90" width="15.61" height="12.63" fill="#5c58b0"/>
<rect x="340.12" y="618.90" width="15.61" height="12.63" fill="#f4f4fc"/>
<rect x="417.92" y="618.90" width="15.61" height="12.63" fill="#e4e4f4"/>
<rect x="433.48" y="618.90" width="15.61" height="12.63" fill="#fcf0ee"/>
<rect x="449.04" y="618.90" width="15.61" height="12.63" fill="#f8e0dc"/>
<rect x="231.20" y="631.48" width="15.61" height="12.63" fill="#35298a"/>
<rect x="246.76" y="631.48" width="15.61" height="12.63" fill="#6c68b8"/>
<rect x="262.32" y="631.48" width="15.61" height="12.63" fill="#35298a"/>
<rect x="277.88" y="631.48" width="15.61" height="12.63" fill="#a0a0d4"/>
<rect x="293.44" y="631.48" width="15.61" height="12.63" fill="#fcf4f0"/>
<rect x="309.00" y="631.48" width="15.61" height="12.63" fill="#a8a8d8"/>
<rect x="324.56" y="631.48" width="15.61" height="12.63" fill="#5c58b0"/>
<rect x="340.12" y="631.48" width="15.61" height="12.63" fill="#c8c8e8"/>
<rect x="371.24" y="631.48" width="15.61" height="12.63" fill="#fcf0ee"/>
<rect x="402.36" y="631.48" width="15.61" height="12.63" fill="#fcf6f4"/>
<rect x="417.92" y="631.48" width="15.61" height="12.63" fill="#fcf0ee"/>
<rect x="449.04" y="631.48" width="15.61" height="12.63" fill="#f8e0dc"/>
<rect x="464.60" y="631.48" width="15.61" height="12.63" fill="#f8f8fc"/>
<rect x="480.16" y="631.48" width="15.61" height="12.63" fill="#f8e4e0"/>
<rect x="231.20" y="644.06" width="15.61" height="12.63" fill="#35298a"/>
<rect x="246.76" y="644.06" width="15.61" height="12.63" fill="#35298a"/>
<rect x="262.32" y="644.06" width="15.61" height="12.63" fill="#35298a"/>
<rect x="277.88" y="644.06" width="15.61" height="12.63" fill="#a0a0d4"/>
<rect x="324.56" y="644.06" width="15.61" height="12.63" fill="#8080c4"/>
<rect x="402.36" y="644.06" width="15.61" height="12.63" fill="#fcf4f4"/>
<rect x="433.48" y="644.06" width="15.61" height="12.63" fill="#f6d4d0"/>
<rect x="231.20" y="656.64" width="15.61" height="12.63" fill="#35298a"/>
<rect x="246.76" y="656.64" width="15.61" height="12.63" fill="#5450ac"/>
<rect x="262.32" y="656.64" width="15.61" height="12.63" fill="#35298a"/>
<rect x="277.88" y="656.64" width="15.61" height="12.63" fill="#b0b0dc"/>
<rect x="293.44" y="656.64" width="15.61" height="12.63" fill="#c0c0e4"/>
<rect x="309.00" y="656.64" width="15.61" height="12.63" fill="#c0c0e4"/>
<rect x="324.56" y="656.64" width="15.61" height="12.63" fill="#5c58b0"/>
<rect x="371.24" y="656.64" width="15.61" height="12.63" fill="#b8b8e0"/>
<rect x="231.20" y="669.22" width="15.61" height="12.63" fill="#35298a"/>
<rect x="246.76" y="669.22" width="15.61" height="12.63" fill="#35298a"/>
<rect x="262.32" y="669.22" width="15.61" height="12.63" fill="#35298a"/>
<rect x="277.88" y="669.22" width="15.61" height="12.63" fill="#8888c8"/>
<rect x="293.44" y="669.22" width="15.61" height="12.63" fill="#9898d0"/>
<rect x="309.00" y="669.22" width="15.61" height="12.63" fill="#a8a8d8"/>
<rect x="324.56" y="669.22" width="15.61" height="12.63" fill="#35298a"/>
<rect x="340.12" y="669.22" width="15.61" height="12.63" fill="#c0c0e4"/>
<rect x="355.68" y="669.22" width="15.61" height="12.63" fill="#c0c0e4"/>
<rect x="371.24" y="669.22" width="15.61" height="12.63" fill="#c0c0e4"/>
<rect x="402.36" y="669.22" width="15.61" height="12.63" fill="#fcecec"/>
<rect x="495.72" y="669.22" width="15.61" height="12.63" fill="#fcf4f0"/>
<rect x="231.20" y="681.80" width="15.61" height="12.63" fill="#4440a4"/>
<rect x="246.76" y="681.80" width="15.61" height="12.63" fill="#35298a"/>
<rect x="262.32" y="681.80" width="15.61" height="12.63" fill="#35298a"/>
<rect x="277.88" y="681.80" width="15.61" height="12.63" fill="#8888c8"/>
<rect x="293.44" y="681.80" width="15.61" height="12.63" fill="#3c38a0"/>
<rect x="324.56" y="681.80" width="15.61" height="12.63" fill="#9090cc"/>
<rect x="340.12" y="681.80" width="15.61" height="12.63" fill="#fae0dc"/>
<rect x="355.68" y="681.80" width="15.61" height="12.63" fill="#a0a0d4"/>
<rect x="371.24" y="681.80" width="15.61" height="12.63" fill="#e8e8f6"/>
<rect x="386.80" y="681.80" width="15.61" height="12.63" fill="#fcecec"/>
<rect x="402.36" y="681.80" width="15.61" height="12.63" fill="#fcf4f4"/>
<rect x="417.92" y="681.80" width="15.61" height="12.63" fill="#e8e8f6"/>
<rect x="433.48" y="681.80" width="15.61" height="12.63" fill="#e8e8f6"/>
<rect x="449.04" y="681.80" width="15.61" height="12.63" fill="#d8d8f0"/>
<rect x="464.60" y="681.80" width="15.61" height="12.63" fill="#e0e0f4"/>
<rect x="480.16" y="681.80" width="15.61" height="12.63" fill="#f6d4d0"/>
<rect x="495.72" y="681.80" width="15.61" height="12.63" fill="#f8dcd8"/>
<rect x="231.20" y="694.38" width="15.61" height="12.63" fill="#35298a"/>
<rect x="246.76" y="694.38" width="15.61" height="12.63" fill="#35298a"/>
<rect x="262.32" y="694.38" width="15.61" height="12.63" fill="#35298a"/>
<rect x="277.88" y="694.38" width="15.61" height="12.63" fill="#c8c8e8"/>
<rect x="293.44" y="694.38" width="15.61" height="12.63" fill="#a8a8d8"/>
<rect x="355.68" y="694.38" width="15.61" height="12.63" fill="#d0d0ec"/>
<rect x="402.36" y="694.38" width="15.61" height="12.63" fill="#f6d4d0"/>
<rect x="246.76" y="706.96" width="15.61" height="12.63" fill="#a8a8d8"/>
<rect x="262.32" y="706.96" width="15.61" height="12.63" fill="#9c9cd4"/>
<rect x="277.88" y="706.96" width="15.61" height="12.63" fill="#ececf8"/>
<rect x="293.44" y="706.96" width="15.61" height="12.63" fill="#a8a8d8"/>
<rect x="309.00" y="706.96" width="15.61" height="12.63" fill="#a8a8d8"/>
<rect x="324.56" y="706.96" width="15.61" height="12.63" fill="#9090cc"/>
<rect x="340.12" y="706.96" width="15.61" height="12.63" fill="#fffcfa"/>
<rect x="355.68" y="706.96" width="15.61" height="12.63" fill="#e0e0f4"/>
<rect x="386.80" y="706.96" width="15.61" height="12.63" fill="#d0d0ec"/>
<rect x="402.36" y="706.96" width="15.61" height="12.63" fill="#f0f0fa"/>
<rect x="433.48" y="706.96" width="15.61" height="12.63" fill="#f0c0bc"/>
<rect x="480.16" y="706.96" width="15.61" height="12.63" fill="#f0f0fa"/>
<rect x="495.72" y="706.96" width="15.61" height="12.63" fill="#f4f4fc"/>
<rect x="246.76" y="719.54" width="15.61" height="12.63" fill="#f4ccc8"/>
<rect x="262.32" y="719.54" width="15.61" height="12.63" fill="#a8a8d8"/>
<rect x="277.88" y="719.54" width="15.61" height="12.63" fill="#9c9cd4"/>
<rect x="293.44" y="719.54" width="15.61" height="12.63" fill="#d0d0ec"/>
<rect x="324.56" y="719.54" width="15.61" height="12.63" fill="#d0d0ec"/>
<rect x="355.68" y="719.54" width="15.61" height="12.63" fill="#e0e0f4"/>
</g>
<line x1="277.88" y1="178.60" x2="277.88" y2="768" stroke="#000" stroke-width="1.6"/>
<line x1="340.12" y1="178.60" x2="340.12" y2="768" stroke="#000" stroke-width="1.6"/>
<line x1="386.80" y1="178.60" x2="386.80" y2="768" stroke="#000" stroke-width="1.6"/>
<line x1="480.16" y1="178.60" x2="480.16" y2="768" stroke="#000" stroke-width="1.6"/>
<g class="hv" font-size="9.0" fill="#000">
<text x="165.7" y="188.79">AZD1480</text>
<text x="165.7" y="201.35">Tofacitinib</text>
<text x="165.7" y="213.91">Ruxolitinib</text>
<text x="165.7" y="226.47">Selumetinib</text>
<text x="165.7" y="239.03">Pimasertib</text>
<text x="165.7" y="251.59">Everolimus</text>
<text x="165.7" y="264.15">Docetaxel</text>
<text x="165.7" y="276.71">Navitoclax</text>
<text x="165.7" y="289.27">Venetoclax</text>
<text x="165.7" y="301.83">Regorafenib</text>
<text x="165.7" y="314.39">Sorafenib</text>
<text x="165.7" y="326.95">Tandutinib</text>
<text x="165.7" y="339.51">AZD 7762</text>
<text x="165.7" y="352.07">Ponatinib</text>
<text x="165.7" y="364.63">Midostaurin</text>
<text x="165.7" y="377.19">Quizartinib</text>
<text x="165.7" y="389.75">Nintedanib</text>
<text x="165.7" y="402.31">Sunitinib</text>
<text x="165.7" y="414.87">Foretinib</text>
<text x="165.7" y="427.43">Cabozantinib</text>
<text x="165.7" y="439.99">RAF265</text>
<text x="165.7" y="452.55">Linifanib</text>
<text x="165.7" y="465.11">Bleomycin</text>
<text x="165.7" y="477.67">Daunorubicin</text>
<text x="165.7" y="490.23">Teniposide</text>
<text x="165.7" y="502.79">Valrubicin</text>
<text x="165.7" y="515.35">Idarubicin</text>
<text x="165.7" y="527.91">Mitoxantrone</text>
<text x="165.7" y="540.47">Etoposide</text>
<text x="165.7" y="553.03">Buparlisib</text>
<text x="165.7" y="565.59">Pictilisib</text>
<text x="165.7" y="578.15">Doxorubicin</text>
<text x="165.7" y="590.71">Dasatinib</text>
<text x="165.7" y="603.27">Vatalanib</text>
<text x="165.7" y="615.83">Nilotinib</text>
<text x="165.7" y="628.39">Masitinib</text>
<text x="165.7" y="640.95">Axitinib</text>
<text x="165.7" y="653.51">Imatinib</text>
<text x="165.7" y="666.07">Pazopanib</text>
<text x="165.7" y="678.63">Tivozanib</text>
<text x="165.7" y="691.19">Crenolanib</text>
<text x="165.7" y="703.75">Motesanib</text>
<text x="165.7" y="716.31">Gefitinib</text>
<text x="165.7" y="728.87">Vandetanib</text>
</g>
<g class="hv" font-size="8.7" fill="#000">
<text transform="translate(242.08,174.2) rotate(-90)">1886_2</text>
<text transform="translate(257.64,174.2) rotate(-90)">1886_8</text>
<text transform="translate(273.20,174.2) rotate(-90)">1886_9</text>
<text transform="translate(288.76,174.2) rotate(-90)">1886_6</text>
<text transform="translate(304.32,174.2) rotate(-90)">1713</text>
<text transform="translate(319.88,174.2) rotate(-90)">1690</text>
<text transform="translate(335.44,174.2) rotate(-90)">2787</text>
<text transform="translate(351.00,174.2) rotate(-90)">4701001_1</text>
<text transform="translate(366.56,174.2) rotate(-90)">2791</text>
<text transform="translate(382.12,174.2) rotate(-90)">2095</text>
<text transform="translate(397.68,174.2) rotate(-90)">4701001_3</text>
<text transform="translate(413.24,174.2) rotate(-90)">1064</text>
<text transform="translate(428.80,174.2) rotate(-90)">3054</text>
<text transform="translate(444.36,174.2) rotate(-90)">1145</text>
<text transform="translate(459.92,174.2) rotate(-90)">3443_3</text>
<text transform="translate(475.48,174.2) rotate(-90)">3443_6</text>
<text transform="translate(491.04,174.2) rotate(-90)">1993</text>
<text transform="translate(506.60,174.2) rotate(-90)">3579</text>
</g>
<rect x="55.20" y="101.3" width="12.45" height="12.4" fill="#2e2a8a"/>
<rect x="67.60" y="101.3" width="12.45" height="12.4" fill="#4a46a0"/>
<rect x="80.00" y="101.3" width="12.45" height="12.4" fill="#a0a0d8"/>
<rect x="104.80" y="101.3" width="12.45" height="12.4" fill="#e8a098"/>
<rect x="117.20" y="101.3" width="12.45" height="12.4" fill="#d04840"/>
<rect x="129.60" y="101.3" width="12.45" height="12.4" fill="#d03820"/>
<g font-size="8.5" fill="#111">
<text transform="translate(64.40,96.7) rotate(-90)">-20.00</text>
<text transform="translate(76.80,96.7) rotate(-90)">-13.33</text>
<text transform="translate(89.20,96.7) rotate(-90)">-6.67</text>
<text transform="translate(101.60,96.7) rotate(-90)">0.00</text>
<text transform="translate(114.00,96.7) rotate(-90)">6.67</text>
<text transform="translate(126.40,96.7) rotate(-90)">13.33</text>
<text transform="translate(138.80,96.7) rotate(-90)">20.00</text>
</g>
<rect x="232.00" y="100.4" width="44.30" height="13" fill="#d0107e" stroke="#2a0a10" stroke-width="1.1"/>
<text x="254.15" y="110.2" font-size="8.2" font-weight="bold" text-anchor="middle" fill="#5a0838">A</text>
<rect x="276.30" y="100.4" width="64.20" height="13" fill="#b80a30" stroke="#2a0a10" stroke-width="1.1"/>
<text x="308.40" y="110.2" font-size="8.2" font-weight="bold" text-anchor="middle" fill="#4a0010">B</text>
<rect x="340.50" y="100.4" width="46.60" height="13" fill="#e88a18" stroke="#2a0a10" stroke-width="1.1"/>
<text x="363.80" y="110.2" font-size="8.2" font-weight="bold" text-anchor="middle" fill="#4a2a08">C</text>
<rect x="387.10" y="100.4" width="93.30" height="13" fill="#f0c020" stroke="#2a0a10" stroke-width="1.1"/>
<text x="433.75" y="110.2" font-size="8.2" font-weight="bold" text-anchor="middle" fill="#4a3a08">D</text>
<rect x="480.40" y="100.4" width="30.20" height="13" fill="#6aaa3a" stroke="#2a0a10" stroke-width="1.1"/>
<text x="495.50" y="110.2" font-size="8.2" font-weight="bold" text-anchor="middle" fill="#1a3a10">E</text>
<path d="M131.60 185.39V197.97M131.60 185.39H158.00M131.60 197.97H158.00M34.90 191.70H131.60M149.50 223.13V235.71M149.50 223.13H158.00M149.50 235.71H158.00M104.80 210.55H158.00M104.80 210.55V229.50M104.80 229.50H149.50M59.70 219.80H104.80M109.10 248.29V260.87M109.10 248.29H158.00M109.10 260.87H158.00M59.70 254.50H109.10M59.70 219.80V254.50M34.90 236.90H59.70M34.90 191.70V236.90M8.60 213.70H34.90M8.60 213.70V581.40M8.60 581.40H56.70M56.70 491.00V670.60M56.70 491.00H68.90M68.90 417.60V565.40M68.90 417.60H81.30M81.30 339.30V496.50M81.30 339.30H90.70M90.70 279.80V411.40M90.70 279.80H143.30M143.30 273.45V286.03M143.30 273.45H158.00M143.30 286.03H158.00M90.70 411.40H118.30M118.30 391.00V442.80M118.30 391.00H137.00M137.00 358.50V413.30M137.00 358.50H140.00M140.00 327.30V381.60M140.00 327.30H143.20M143.20 308.20V345.80M143.20 308.20H147.30M147.30 298.61V317.70M147.30 298.61H158.00M147.30 317.70H155.70M155.70 311.19V323.77M155.70 311.19H158.00M155.70 323.77H158.00M143.20 345.80H147.20M147.20 336.35V355.40M147.20 336.35H158.00M147.20 355.40H150.10M150.10 348.93V361.51M150.10 348.93H158.00M150.10 361.51H158.00M140.00 381.60H145.00M145.00 372.40V385.50M145.00 372.40H152.60M145.00 385.50H158.00M137.00 413.30H148.10M148.10 404.30V424.41M148.10 424.41H158.00M148.10 404.30H154.30M154.30 399.25V411.83M154.30 399.25H158.00M154.30 411.83H158.00M118.30 442.80H146.30M146.30 436.99V449.57M146.30 436.99H158.00M146.30 449.57H158.00M81.30 496.50H106.90M106.90 472.30V521.60M106.90 472.30H119.40M119.40 462.15V484.00M119.40 462.15H158.00M119.40 484.00H143.10M143.10 474.73V493.00M143.10 474.73H158.00M143.10 493.00H143.80M143.80 487.31V499.89M143.80 487.31H158.00M143.80 499.89H158.00M106.90 521.60H130.40M130.40 512.47V531.00M130.40 512.47H158.00M130.40 531.00H146.30M146.30 525.05V537.63M146.30 525.05H158.00M146.30 537.63H158.00M68.90 565.40H98.90M98.90 556.00V575.37M98.90 575.37H158.00M98.90 556.00H122.50M122.50 550.21V562.79M122.50 550.21H158.00M122.50 562.79H158.00M56.70 670.60H73.10M73.10 621.20V719.60M73.10 621.20H100.70M100.70 593.70V649.60M100.70 593.70H127.50M127.50 587.95V600.53M127.50 587.95H158.00M127.50 600.53H158.00M100.70 649.60H110.10M110.10 622.20V676.60M110.10 622.20H125.80M125.80 613.11V631.40M125.80 613.11H158.00M125.80 631.40H138.10M138.10 625.69V638.27M138.10 625.69H158.00M138.10 638.27H158.00M110.10 676.60H130.80M130.80 660.20V694.50M130.80 660.20H143.30M143.30 650.85V669.50M143.30 650.85H158.00M143.30 669.50H148.00M148.00 663.43V676.01M148.00 663.43H158.00M148.00 676.01H158.00M130.80 694.50H141.20M141.20 688.59V701.17M141.20 688.59H158.00M141.20 701.17H158.00M73.10 719.60H113.50M113.50 713.75V726.33M113.50 713.75H158.00M113.50 726.33H158.00" fill="none" stroke="#000" stroke-width="1.45" stroke-linecap="square"/>
<path d="M238.98 82.60H254.54M238.98 82.60V92.30M254.54 82.60V92.30M246.90 54.70H270.10M246.90 54.70V82.60M270.10 54.70V92.30M258.50 8.10H360.80M258.50 8.10V54.70M360.80 8.10V61.90M314.30 61.90H406.90M314.30 61.90V74.30M406.90 61.90V70.80M297.70 74.30H332.34M297.70 74.30V79.60M332.34 74.30V92.30M285.66 79.60H309.00M285.66 79.60V92.30M309.00 79.60V86.50M301.22 86.50H316.78M301.22 86.50V92.30M316.78 86.50V92.30M359.80 70.80H454.70M359.80 70.80V80.40M454.70 70.80V83.90M347.90 80.40H371.30M347.90 80.40V92.30M371.30 80.40V85.20M363.46 85.20H379.02M363.46 85.20V92.30M379.02 85.20V92.30M414.50 83.90H496.20M414.50 83.90V87.80M496.20 83.90V88.20M487.94 88.20H503.50M487.94 88.20V92.30M503.50 88.20V92.30M394.58 87.80H436.00M394.58 87.80V92.30M436.00 87.80V89.00M418.00 89.00H452.00M410.14 90.30H472.38M410.14 90.30V92.30M425.70 90.30V92.30M441.26 90.30V92.30M456.82 90.30V92.30M472.38 90.30V92.30" fill="none" stroke="#000" stroke-width="1.2" stroke-linecap="square"/>
<g class="hv" font-size="9.0" fill="#000">
<text x="142.3" y="756.0"><tspan font-style="italic">FLT3</tspan>-ITD</text>
<text x="142.3" y="767.5" font-style="italic">CCDC88C-PDGFRB</text>
</g>
<path d="M236.58 753.80H241.38M238.98 751.40V756.20M252.14 753.80H256.94M254.54 751.40V756.20M267.70 753.80H272.50M270.10 751.40V756.20M283.26 753.80H288.06M285.66 751.40V756.20M298.82 753.80H303.62M301.22 751.40V756.20M314.38 753.80H319.18M316.78 751.40V756.20M345.50 753.80H350.30M347.90 751.40V756.20M361.06 753.80H365.86M363.46 751.40V756.20M392.18 753.80H396.98M394.58 751.40V756.20M236.58 765.20H241.38M238.98 762.80V767.60M252.14 765.20H256.94M254.54 762.80V767.60M267.70 765.20H272.50M270.10 762.80V767.60M283.26 765.20H288.06M285.66 762.80V767.60" stroke="#000" stroke-width="1.15" fill="none"/>
<rect x="0.8" y="0.8" width="518.4" height="776.4" fill="none" stroke="#000" stroke-width="1.8"/>
</svg></body></html>
